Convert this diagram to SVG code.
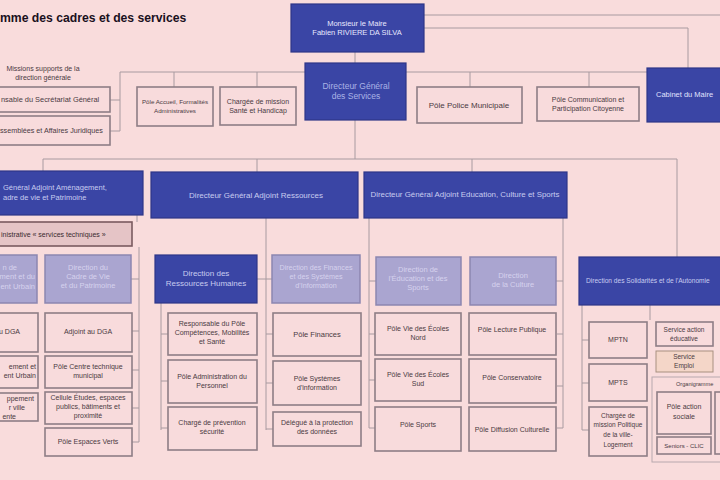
<svg xmlns="http://www.w3.org/2000/svg" width="720" height="480" viewBox="0 0 720 480">
<style>
text{font-family:"Liberation Sans",Arial,sans-serif;font-size:7px;}
.bg{fill:#f9dcdc;}
.dark{fill:#3a45a5;stroke:#2e3688;stroke-width:1.2;}
.lite{fill:#aaa5d0;stroke:#8c86b0;stroke-width:1.5;}
.pink{fill:#f8dbdc;stroke:#8e7e86;stroke-width:1.6;}
.tech{fill:#e5c4c6;stroke:#7a5a60;stroke-width:1.6;}
.peach{fill:#f4d6c8;stroke:#a89080;stroke-width:1;}
.grp{fill:none;stroke:#b8a8ae;stroke-width:1;}
.tw{fill:#e8e8ff;text-anchor:middle;}
.tdgs{fill:#aab3e6;text-anchor:middle;font-size:8.5px;}
.tl{fill:#d6d2ee;text-anchor:middle;font-size:7.5px;}
.tk{fill:#4a3a42;text-anchor:middle;}
.ts{fill:#4a3a42;}
.te{fill:#4a3a42;text-anchor:end;}
.c line,.c path{stroke:#a89aa0;stroke-width:1;fill:none;}
</style>
<rect class="bg" x="0" y="0" width="720" height="480"/>
<text x="0" y="22" style="font-size:12.2px;font-weight:bold;fill:#1a1020">mme des cadres et des services</text>
<g class="c" id="connectors">
<line x1="355" y1="52" x2="355" y2="63"/>
<line x1="424" y1="15" x2="720" y2="15"/>
<path d="M424 28 H688 V68"/>
<line x1="120" y1="72" x2="647" y2="72"/>
<line x1="174" y1="72" x2="174" y2="87"/>
<line x1="257" y1="72" x2="257" y2="87"/>
<line x1="470" y1="72" x2="470" y2="87"/>
<line x1="589" y1="72" x2="589" y2="87"/>
<line x1="120" y1="72" x2="120" y2="131"/>
<line x1="110" y1="100" x2="120" y2="100"/>
<line x1="110" y1="131" x2="120" y2="131"/>
<line x1="355" y1="120" x2="355" y2="159"/>
<line x1="43" y1="159" x2="677" y2="159"/>
<line x1="43" y1="159" x2="43" y2="172"/>
<line x1="257" y1="159" x2="257" y2="172"/>
<line x1="472" y1="159" x2="472" y2="172"/>
<line x1="677" y1="159" x2="677" y2="257"/>
<line x1="137" y1="215" x2="137" y2="222"/>
<line x1="139" y1="247" x2="139" y2="442"/>
<line x1="131" y1="279" x2="139" y2="279"/>
<line x1="132" y1="331" x2="139" y2="331"/>
<line x1="132" y1="370" x2="139" y2="370"/>
<line x1="132" y1="408" x2="139" y2="408"/>
<line x1="132" y1="442" x2="139" y2="442"/>
<line x1="266" y1="218" x2="266" y2="430"/>
<line x1="257" y1="279" x2="272" y2="279"/>
<line x1="266" y1="334" x2="273" y2="334"/>
<line x1="266" y1="383" x2="273" y2="383"/>
<line x1="266" y1="429" x2="273" y2="429"/>
<line x1="161" y1="303" x2="161" y2="430"/>
<line x1="161" y1="334" x2="168" y2="334"/>
<line x1="161" y1="381" x2="168" y2="381"/>
<line x1="161" y1="428" x2="168" y2="428"/>
<line x1="369" y1="218" x2="369" y2="428"/>
<line x1="369" y1="281" x2="376" y2="281"/>
<line x1="369" y1="334" x2="375" y2="334"/>
<line x1="369" y1="380" x2="375" y2="380"/>
<line x1="369" y1="428" x2="375" y2="428"/>
<line x1="563" y1="218" x2="563" y2="428"/>
<line x1="556" y1="281" x2="563" y2="281"/>
<line x1="557" y1="334" x2="563" y2="334"/>
<line x1="557" y1="386" x2="563" y2="386"/>
<line x1="557" y1="428" x2="563" y2="428"/>
<line x1="582" y1="305" x2="582" y2="430"/>
<line x1="582" y1="340" x2="589" y2="340"/>
<line x1="582" y1="383" x2="589" y2="383"/>
<line x1="582" y1="430" x2="589" y2="430"/>
<line x1="650" y1="305" x2="650" y2="320"/>
</g>
<g id="maire"><rect class="dark" x="291" y="4" width="133" height="48"/><text class="tw" x="357" y="26" style="font-size:7.5px">Monsieur le Maire</text><text class="tw" x="357" y="35" style="font-size:7.5px">Fabien RIVIERE DA SILVA</text></g>
<g id="dgs"><rect class="dark" x="305" y="63" width="101" height="57"/><text class="tdgs" x="356" y="89">Directeur Général</text><text class="tdgs" x="356" y="99">des Services</text></g>
<g id="cabinet"><rect class="dark" x="647" y="68" width="80" height="54"/><text x="656" y="97" style="fill:#e0e2ff;font-size:7.5px">Cabinet du Maire</text></g>
<g id="missions"><text class="tk" x="43" y="71">Missions supports de la</text><text class="tk" x="43" y="80">direction générale</text></g>
<g id="secretariat"><rect class="pink" x="-2" y="87" width="112" height="25"/><text class="ts" x="1" y="102" style="font-size:7.4px">nsable du Secrétariat Général</text></g>
<g id="assemblees"><rect class="pink" x="-2" y="116" width="112" height="29"/><text class="ts" x="0" y="133" style="font-size:7.2px">ssemblées  et Affaires Juridiques</text></g>
<g id="accueil"><rect class="pink" x="137" y="87" width="76" height="39"/><text class="tk" x="175" y="104" style="font-size:6.2px">Pôle Accueil, Formalités</text><text class="tk" x="175" y="113" style="font-size:6.2px">Administratives</text></g>
<g id="sante"><rect class="pink" x="220" y="87" width="76" height="38"/><text class="tk" x="258" y="104">Chargée de mission</text><text class="tk" x="258" y="113">Santé et Handicap</text></g>
<g id="police"><rect class="pink" x="417" y="87" width="105" height="36"/><text class="tk" x="469" y="108" style="font-size:8px">Pôle  Police Municipale</text></g>
<g id="communication"><rect class="pink" x="537" y="87" width="102" height="34"/><text class="tk" x="588" y="102">Pôle Communication et</text><text class="tk" x="588" y="111">Participation Citoyenne</text></g>
<g id="dga-amenagement"><rect class="dark" x="-2" y="171" width="145" height="44"/><text x="3" y="190" style="fill:#c8ccf0;font-size:7.5px">Général Adjoint Aménagement,</text><text x="3" y="200" style="fill:#c8ccf0;font-size:7.5px">adre de vie et Patrimoine</text></g>
<g id="services-techniques"><rect class="tech" x="-2" y="222" width="134" height="24"/><text x="1" y="237" style="fill:#3a2a30">inistrative « services techniques »</text></g>
<g id="dir-amenagement"><rect class="lite" x="-2" y="255" width="39" height="48"/><text class="tl" x="17" y="270" style="text-anchor:end">n de</text><text class="tl" x="35" y="279" style="text-anchor:end">ment et du</text><text class="tl" x="35" y="289" style="text-anchor:end">ent Urbain</text></g>
<g id="dir-cadre-vie"><rect class="lite" x="45" y="255" width="86" height="48"/><text class="tl" x="88" y="270">Direction du</text><text class="tl" x="88" y="279">Cadre de Vie</text><text class="tl" x="88" y="288">et du Patrimoine</text></g>
<g id="adjoint-dga-1"><rect class="pink" x="-2" y="313" width="40" height="39"/><text class="te" x="20" y="334">u DGA</text></g>
<g id="pole-amenagement"><rect class="pink" x="-2" y="356" width="40" height="32"/><text class="te" x="36" y="369">ement et</text><text class="te" x="36" y="378">ent Urbain</text></g>
<g id="charge-developpement"><rect class="pink" x="-2" y="393" width="40" height="28"/><text class="te" x="34" y="401">ppement</text><text class="te" x="25" y="410">r ville</text><text class="te" x="16" y="419">ente</text></g>
<g id="adjoint-dga-2"><rect class="pink" x="45" y="313" width="87" height="39"/><text class="tk" x="88" y="334">Adjoint au DGA</text></g>
<g id="centre-technique"><rect class="pink" x="45" y="356" width="87" height="32"/><text class="tk" x="88" y="369">Pôle Centre technique</text><text class="tk" x="88" y="378">municipal</text></g>
<g id="cellule-etudes"><rect class="pink" x="45" y="392" width="87" height="32"/><text class="tk" x="88" y="400">Cellule Études, espaces</text><text class="tk" x="88" y="409">publics, bâtiments et</text><text class="tk" x="88" y="418">proximité</text></g>
<g id="espaces-verts"><rect class="pink" x="45" y="428" width="87" height="28"/><text class="tk" x="88" y="444">Pôle Espaces Verts</text></g>
<g id="dga-ressources"><rect class="dark" x="151" y="172" width="207" height="46"/><text class="tw" x="256" y="198" style="fill:#c8ccf0;font-size:8px">Directeur Général Adjoint Ressources</text></g>
<g id="drh"><rect class="dark" x="155" y="255" width="102" height="48"/><text class="tw" x="206" y="276" style="fill:#c8ccf0;font-size:8px">Direction des</text><text class="tw" x="206" y="286" style="fill:#c8ccf0;font-size:8px">Ressources Humaines</text></g>
<g id="dfsi"><rect class="lite" x="272" y="255" width="88" height="48"/><text class="tl" x="316" y="270" style="font-size:7.2px">Direction des Finances</text><text class="tl" x="316" y="279" style="font-size:7.2px">et des Systèmes</text><text class="tl" x="316" y="288" style="font-size:7.2px">d'Information</text></g>
<g id="competences"><rect class="pink" x="168" y="313" width="89" height="42"/><text class="tk" x="212" y="326">Responsable du Pôle</text><text class="tk" x="212" y="335">Compétences, Mobilités</text><text class="tk" x="212" y="344">et Santé</text></g>
<g id="admin-personnel"><rect class="pink" x="168" y="360" width="89" height="43"/><text class="tk" x="212" y="379">Pôle Administration du</text><text class="tk" x="212" y="388">Personnel</text></g>
<g id="prevention"><rect class="pink" x="168" y="407" width="89" height="43"/><text class="tk" x="212" y="425">Chargé de prévention</text><text class="tk" x="212" y="434">sécurité</text></g>
<g id="finances"><rect class="pink" x="273" y="313" width="88" height="43"/><text class="tk" x="317" y="337" style="font-size:7.5px">Pôle Finances</text></g>
<g id="systemes"><rect class="pink" x="273" y="361" width="88" height="44"/><text class="tk" x="317" y="381">Pôle Systèmes</text><text class="tk" x="317" y="390">d'information</text></g>
<g id="dpo"><rect class="pink" x="273" y="412" width="88" height="34"/><text class="tk" x="317" y="425">Délégué à la protection</text><text class="tk" x="317" y="434">des données</text></g>
<g id="dga-education"><rect class="dark" x="364" y="172" width="203" height="46"/><text class="tw" x="465" y="197" style="fill:#c8ccf0;font-size:7.9px">Directeur Général Adjoint Education, Culture et Sports</text></g>
<g id="dir-education"><rect class="lite" x="376" y="257" width="85" height="48"/><text class="tl" x="418" y="272">Direction de</text><text class="tl" x="418" y="281">l'Éducation et des</text><text class="tl" x="418" y="290">Sports</text></g>
<g id="dir-culture"><rect class="lite" x="470" y="257" width="86" height="48"/><text class="tl" x="513" y="278">Direction</text><text class="tl" x="513" y="287">de la Culture</text></g>
<g id="ecoles-nord"><rect class="pink" x="375" y="313" width="86" height="42"/><text class="tk" x="418" y="331">Pôle Vie des Écoles</text><text class="tk" x="418" y="340">Nord</text></g>
<g id="ecoles-sud"><rect class="pink" x="375" y="359" width="86" height="42"/><text class="tk" x="418" y="377">Pôle Vie des Écoles</text><text class="tk" x="418" y="386">Sud</text></g>
<g id="sports"><rect class="pink" x="375" y="407" width="86" height="44"/><text class="tk" x="418" y="427">Pôle Sports</text></g>
<g id="lecture"><rect class="pink" x="469" y="313" width="87" height="42"/><text class="tk" x="512" y="332">Pôle Lecture Publique</text></g>
<g id="conservatoire"><rect class="pink" x="469" y="359" width="87" height="44"/><text class="tk" x="512" y="380">Pôle Conservatoire</text></g>
<g id="diffusion"><rect class="pink" x="469" y="407" width="87" height="44"/><text class="tk" x="512" y="432">Pôle Diffusion Culturelle</text></g>
<g id="solidarites"><rect class="dark" x="579" y="257" width="145" height="48"/><text x="586" y="283" style="fill:#c8ccf0;font-size:6.6px">Direction des Solidarités et de l'Autonomie</text></g>
<g id="mptn"><rect class="pink" x="589" y="322" width="58" height="36"/><text class="tk" x="618" y="342">MPTN</text></g>
<g id="mpts"><rect class="pink" x="589" y="364" width="58" height="37"/><text class="tk" x="618" y="385">MPTS</text></g>
<g id="politique-ville"><rect class="pink" x="589" y="407" width="58" height="49"/><text class="tk" x="618" y="418" style="font-size:6.5px">Chargée de</text><text class="tk" x="618" y="427" style="font-size:6.5px">mission Politique</text><text class="tk" x="618" y="437" style="font-size:6.5px">de la ville-</text><text class="tk" x="618" y="447" style="font-size:6.5px">Logement</text></g>
<g id="action-educative"><rect class="pink" x="656" y="322" width="57" height="24"/><text class="tk" x="684" y="332" style="font-size:6.5px">Service action</text><text class="tk" x="684" y="341" style="font-size:6.5px">éducative</text></g>
<g id="emploi"><rect class="peach" x="656" y="351" width="57" height="21"/><text class="tk" x="684" y="359" style="font-size:6.5px">Service</text><text class="tk" x="684" y="368" style="font-size:6.5px">Emploi</text></g>
<g id="organigramme"><rect class="grp" x="652" y="377" width="72" height="85"/><text class="ts" x="676" y="386" style="font-size:5.6px">Organigramme</text></g>
<g id="action-sociale"><rect class="pink" x="657" y="392" width="54" height="42"/><text class="tk" x="684" y="409">Pôle action</text><text class="tk" x="684" y="419">sociale</text></g>
<g id="seniors"><rect class="pink" x="657" y="437" width="54" height="17"/><text class="tk" x="684" y="448" style="font-size:6px">Seniors - CLIC</text></g>
<g id="ccas-other"><rect class="pink" x="715" y="392" width="12" height="62"/></g>
</svg>
